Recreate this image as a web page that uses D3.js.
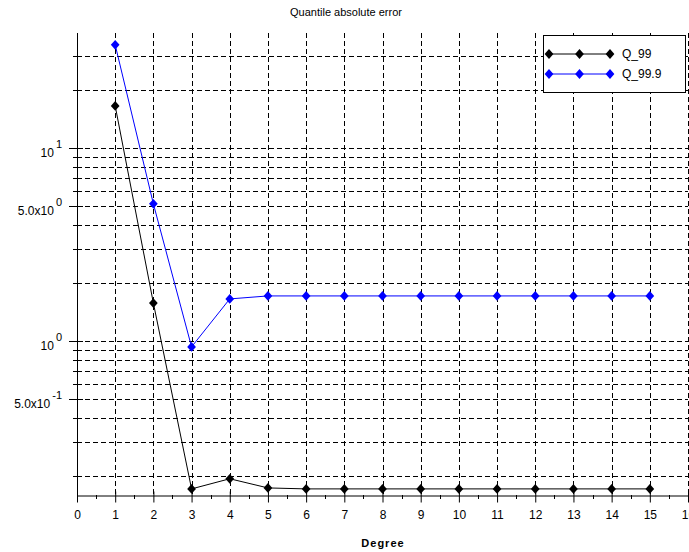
<!DOCTYPE html>
<html>
<head>
<meta charset="utf-8">
<script src="https://cdn.jsdelivr.net/npm/d3@7"></script>
<style>
  body { margin: 0; background: #fff; }
  svg { display: block; font-family: "Liberation Sans", Arial, sans-serif; }
</style>
</head>
<body>
<svg id="chart" width="689" height="552"></svg>
<script>
// DATA
const degrees = [1, 2, 3, 4, 5, 6, 7, 8, 9, 10, 11, 12, 13, 14, 15];
const q99 = [16.5, 1.57, 0.171, 0.193, 0.173, 0.171, 0.171, 0.171, 0.171, 0.171, 0.171, 0.171, 0.171, 0.171, 0.171];
const q999 = [34.2, 5.13, 0.931, 1.65, 1.71, 1.71, 1.71, 1.71, 1.71, 1.71, 1.71, 1.71, 1.71, 1.71, 1.71];
const seriesNames = ["Q_99", "Q_99.9"];
const seriesColors = ["#000000", "#0000ff"];
const xTicks = d3.range(0, 17);
const yLabelTicks = [
  { v: 10, base: "10", exp: "1" },
  { v: 5, base: "5.0x10", exp: "0" },
  { v: 1, base: "10", exp: "0" },
  { v: 0.5, base: "5.0x10", exp: "-1" }
];

// LAYOUT
const svg = d3.select("#chart");
const plotL = 77, plotR = 688, plotT = 33, plotB = 495;

const x = d3.scaleLinear().domain([0, 16]).range([plotL, plotR]);
const y = d3.scaleLog().domain([0.159, 39.4]).range([plotB, plotT]);

// ── Grid ──
const grid = svg.append("g")
  .attr("stroke", "#000")
  .attr("stroke-width", 1)
  .attr("stroke-dasharray", "5,3")
  .attr("shape-rendering", "crispEdges");

y.ticks().forEach((t) => {
  grid.append("line")
    .attr("x1", plotL).attr("x2", plotR)
    .attr("y1", Math.round(y(t)) + 0.5).attr("y2", Math.round(y(t)) + 0.5);
});
xTicks.filter((d) => d > 0).forEach((t) => {
  grid.append("line")
    .attr("x1", Math.round(x(t)) + 0.5).attr("x2", Math.round(x(t)) + 0.5)
    .attr("y1", plotT).attr("y2", plotB);
});

// ── X axis ──
const xAxis = svg.append("g")
  .attr("transform", `translate(0,${plotB + 0.5})`)
  .call(d3.axisBottom(x).tickValues(xTicks).tickSize(7).tickPadding(8).tickSizeOuter(0));
xAxis.select(".domain").attr("stroke", "#000");
xAxis.selectAll(".tick line").attr("y1", -4).attr("stroke", "#000");
xAxis.selectAll(".tick text")
  .attr("font-size", 12)
  .attr("font-family", "Liberation Sans, Arial, sans-serif")
  .attr("fill", "#000");

// minor x ticks at halves
svg.append("g").selectAll("line")
  .data(xTicks.slice(0, -1))
  .join("line")
  .attr("x1", (d) => Math.round(x(d + 0.5)) + 0.5)
  .attr("x2", (d) => Math.round(x(d + 0.5)) + 0.5)
  .attr("y1", plotB)
  .attr("y2", plotB + 4)
  .attr("stroke", "#000");

// ── Y axis ──
const yAxis = svg.append("g").attr("shape-rendering", "crispEdges");
yAxis.append("line")
  .attr("x1", plotL + 0.5).attr("x2", plotL + 0.5)
  .attr("y1", plotT).attr("y2", plotB)
  .attr("stroke", "#000");

const labelled = yLabelTicks.map((d) => d.v);
y.ticks().forEach((t) => {
  const major = labelled.includes(t);
  const py = Math.round(y(t)) + 0.5;
  yAxis.append("line")
    .attr("x1", plotL - (major ? 8 : 4)).attr("x2", plotL + (major ? 6 : 3))
    .attr("y1", py).attr("y2", py)
    .attr("stroke", "#000");
});

const yLabels = svg.append("g")
  .attr("font-size", 12)
  .attr("fill", "#000")
  .attr("text-anchor", "end");
yLabelTicks.forEach((d) => {
  const t = yLabels.append("text")
    .attr("x", 62)
    .attr("y", y(d.v) + 9);
  t.append("tspan").text(d.base);
  t.append("tspan")
    .attr("dx", 2)
    .attr("dy", -9)
    .attr("font-size", 11)
    .text(d.exp);
});

// ── Series ──
const line = d3.line()
  .x((d) => x(d[0]))
  .y((d) => y(d[1]));

// square turned 45° -> diamond, a little taller than wide
const diamond = d3.symbol().type(d3.symbolSquare).size(38);
const markerTf = (px, py) => `translate(${px},${py}) scale(1,1.12) rotate(45)`;

[q99, q999].forEach((vals, si) => {
  const pts = degrees.map((d, i) => [d, vals[i]]);
  svg.append("path")
    .datum(pts)
    .attr("d", line)
    .attr("fill", "none")
    .attr("stroke", seriesColors[si])
    .attr("stroke-width", 1);
  svg.append("g").selectAll("path")
    .data(pts)
    .join("path")
    .attr("d", diamond)
    .attr("transform", (d) => markerTf(x(d[0]), y(d[1])))
    .attr("fill", seriesColors[si]);
});

// ── Legend ──
const legend = svg.append("g");
legend.append("rect")
  .attr("x", 543.5).attr("y", 35.5)
  .attr("width", 142).attr("height", 57)
  .attr("fill", "#fff")
  .attr("stroke", "#000");
seriesNames.forEach((name, i) => {
  const ly = 54 + i * 20;
  legend.append("line")
    .attr("x1", 549).attr("x2", 610)
    .attr("y1", ly).attr("y2", ly)
    .attr("stroke", seriesColors[i]);
  [549, 579.5, 610].forEach((mx) => {
    legend.append("path")
      .attr("d", diamond)
      .attr("transform", markerTf(mx, ly))
      .attr("fill", seriesColors[i]);
  });
  legend.append("text")
    .attr("x", 622).attr("y", ly + 4)
    .attr("font-size", 12)
    .attr("fill", "#000")
    .text(name);
});

// ── Titles ──
svg.append("text")
  .attr("x", 346).attr("y", 16)
  .attr("text-anchor", "middle")
  .attr("font-size", 11)
  .attr("fill", "#000")
  .text("Quantile absolute error");

svg.append("text")
  .attr("x", 383).attr("y", 547)
  .attr("text-anchor", "middle")
  .attr("font-size", 11)
  .attr("font-weight", "bold")
  .attr("letter-spacing", 1)
  .attr("fill", "#000")
  .text("Degree");
</script>
</body>
</html>
